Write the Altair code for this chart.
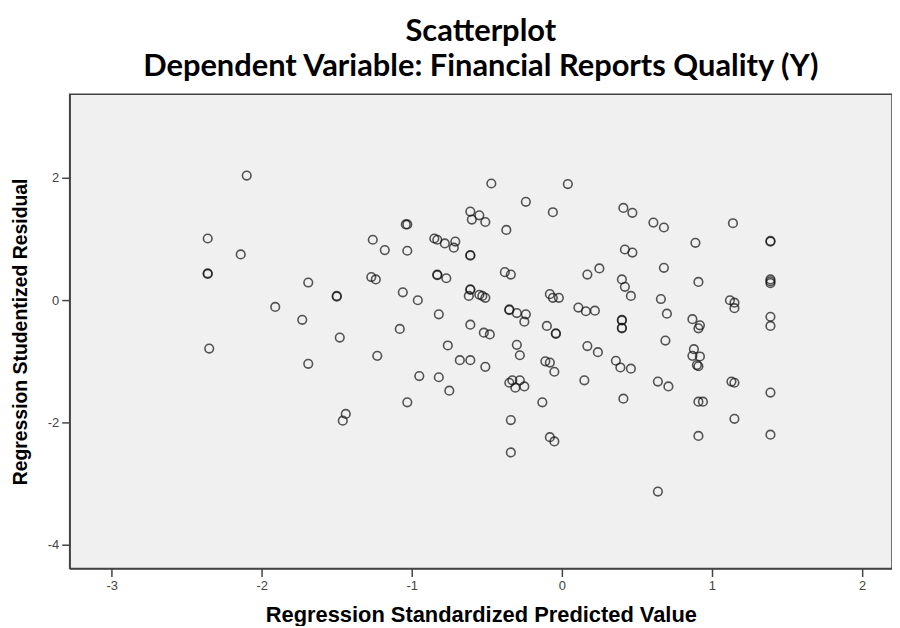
import altair as alt
import pandas as pd

# Regression Standardized Predicted Value
pred = [
    -2.10, -2.36, -2.14, -2.36, -2.36, -1.69, -1.50, -1.50, -1.91, -1.73,
    -1.48, -2.35, -1.69, -1.44, -1.46, -1.23, -1.26, -1.18, -1.03, -1.03,
    -1.04, -1.27, -1.24, -1.06, -0.96, -1.08, -0.85, -0.83, -0.78, -0.71,
    -0.72, -0.83, -0.83, -0.77, -0.82, -0.61, -0.55, -0.60, -0.51, -0.47,
    -0.37, -0.24, -0.06, -0.61, -0.61, -0.38, -0.34, -0.61, -0.61, -0.62,
    -0.55, -0.53, -0.51, -0.61, -0.35, -0.35, -0.30, -0.24, -0.25, -0.08,
    -0.06, -0.02, -0.10, -0.04, -0.04, 0.04, -0.52, -0.48, -0.76, -0.30,
    -0.28, -0.68, -0.61, -0.51, -0.11, -0.08, -0.05, -0.95, -0.82, -0.75,
    -1.03, -0.35, -0.33, -0.28, -0.31, -0.25, -0.13, -0.34, -0.34, -0.08,
    -0.05, 0.41, 0.47, 0.61, 0.68, 1.14, 0.89, 0.42, 0.47, 0.68,
    0.25, 0.17, 0.91, 0.40, 0.42, 0.46, 0.66, 0.70, 1.12, 1.15,
    1.15, 0.11, 0.16, 0.22, 0.40, 0.40, 0.40, 0.40, 0.87, 0.92,
    0.91, 0.69, 0.17, 0.24, 0.36, 0.39, 0.46, 0.88, 0.87, 0.92,
    0.90, 0.91, 0.15, 0.64, 0.71, 0.41, 1.13, 1.15, 0.91, 0.94,
    1.15, 0.91, 0.64, 1.39, 1.39, 1.39, 1.39, 1.39, 1.39, 1.39,
    1.39, 1.39,
]

# Regression Studentized Residual
resid = [
    2.04, 1.01, 0.75, 0.43, 0.44, 0.29, 0.06, 0.07, -0.11, -0.32,
    -0.61, -0.79, -1.04, -1.86, -1.97, -0.91, 0.99, 0.82, 0.81, 1.24,
    1.24, 0.38, 0.34, 0.13, 0.00, -0.47, 1.01, 0.99, 0.93, 0.96,
    0.86, 0.42, 0.41, 0.36, -0.23, 1.45, 1.39, 1.32, 1.28, 1.91,
    1.15, 1.61, 1.44, 0.73, 0.74, 0.46, 0.42, 0.18, 0.17, 0.07,
    0.09, 0.07, 0.04, -0.40, -0.15, -0.16, -0.21, -0.23, -0.35, 0.10,
    0.04, 0.04, -0.42, -0.55, -0.54, 1.90, -0.53, -0.56, -0.74, -0.73,
    -0.90, -0.98, -0.98, -1.09, -1.00, -1.02, -1.17, -1.24, -1.26, -1.48,
    -1.67, -1.35, -1.31, -1.31, -1.43, -1.41, -1.67, -1.96, -2.49, -2.24,
    -2.31, 1.51, 1.43, 1.27, 1.19, 1.26, 0.94, 0.83, 0.78, 0.53,
    0.52, 0.42, 0.30, 0.34, 0.22, 0.07, 0.02, -0.22, 0.00, -0.04,
    -0.13, -0.12, -0.18, -0.17, -0.33, -0.32, -0.45, -0.46, -0.31, -0.41,
    -0.46, -0.66, -0.75, -0.85, -0.99, -1.10, -1.12, -0.80, -0.91, -0.92,
    -1.06, -1.08, -1.31, -1.33, -1.41, -1.61, -1.33, -1.35, -1.66, -1.66,
    -1.94, -2.22, -3.13, 0.96, 0.97, 0.34, 0.31, 0.28, -0.27, -0.42,
    -1.51, -2.20,
]

x_ticks = [-3, -2, -1, 0, 1, 2]
y_ticks = [-4, -2, 0, 2]
x_domain = [-3.28, 2.2]
y_domain = [-4.39, 3.37]

df = pd.DataFrame({"pred": pred, "resid": resid})

chart = (
    alt.Chart(df)
    .mark_point(shape="circle", filled=False, size=75, strokeWidth=1.6,
                color="#111111", opacity=0.7)
    .encode(
        x=alt.X("pred:Q",
                scale=alt.Scale(domain=x_domain, nice=False, zero=False),
                axis=alt.Axis(values=x_ticks, title="Regression Standardized Predicted Value",
                              labelExpr="'' + datum.value",
                              grid=False, tickSize=8, labelPadding=3, titlePadding=12,
                              titleFontSize=22, labelFontSize=13)),
        y=alt.Y("resid:Q",
                scale=alt.Scale(domain=y_domain, nice=False, zero=False),
                axis=alt.Axis(values=y_ticks, title="Regression Studentized Residual",
                              labelExpr="'' + datum.value",
                              grid=False, tickSize=8, labelPadding=3, titlePadding=17,
                              titleFontSize=19.5, labelFontSize=13)),
    )
    .properties(
        width=827,
        height=477,
        autosize=alt.AutoSizeParams(type="none"),
        padding={"left": 62, "top": 85, "right": 0, "bottom": 56},
        title=alt.TitleParams(
            text=["Scatterplot", "Dependent Variable: Financial Reports Quality (Y)"],
            font="Lato", fontSize=31, fontWeight="bold", color="#000000",
            lineHeight=36, offset=11, anchor="middle",
        ),
    )
    .configure_view(fill="#f0f0f0", stroke="#444444", strokeWidth=1.5)
    .configure_axis(
        domainColor="#444444", domainWidth=1.5, tickColor="#444444", tickWidth=1.5,
        labelColor="#444444", labelFont="Liberation Sans",
        titleFont="Liberation Sans", titleFontWeight="bold", titleColor="#000000",
    )
)

chart.save("out.html", embed_options={"renderer": "svg", "actions": False})
